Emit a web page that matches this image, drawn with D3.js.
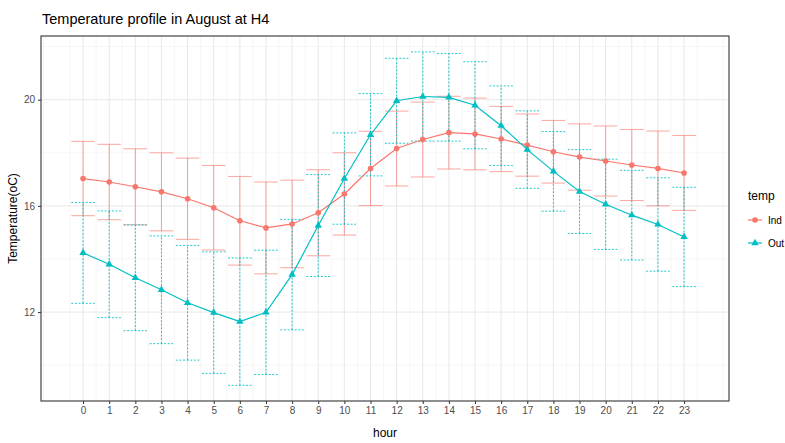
<!DOCTYPE html>
<html>
<head>
<meta charset="utf-8">
<script src="https://cdn.jsdelivr.net/npm/d3@7"></script>
<style>
  body { margin: 0; background: #fff; }
  svg text { font-family: "Liberation Sans", Arial, sans-serif; }
</style>
</head>
<body>
<svg id="root"></svg>
<script>
// hourly temperature, mean and standard deviation
const hours = [0, 1, 2, 3, 4, 5, 6, 7, 8, 9, 10, 11, 12, 13, 14, 15, 16, 17, 18, 19, 20, 21, 22, 23];
const indMean = [17.03, 16.90, 16.72, 16.53, 16.27, 15.93, 15.44, 15.17, 15.32, 15.74, 16.45, 17.41,
  18.16, 18.50, 18.76, 18.71, 18.52, 18.29, 18.04, 17.84, 17.69, 17.54, 17.41, 17.24];
const indSd = [1.40, 1.42, 1.43, 1.47, 1.53, 1.59, 1.67, 1.73, 1.65, 1.62, 1.55, 1.40,
  1.41, 1.41, 1.37, 1.35, 1.23, 1.17, 1.18, 1.25, 1.32, 1.34, 1.41, 1.41];
const outMean = [14.23, 13.80, 13.29, 12.84, 12.35, 11.98, 11.64, 11.99, 13.41, 15.26, 17.03, 18.68,
  19.96, 20.12, 20.09, 19.79, 19.02, 18.12, 17.30, 16.54, 16.06, 15.65, 15.30, 14.83];
const outSd = [1.90, 2.01, 1.99, 2.03, 2.16, 2.29, 2.40, 2.34, 2.08, 1.92, 1.72, 1.55,
  1.60, 1.68, 1.65, 1.64, 1.50, 1.46, 1.50, 1.58, 1.70, 1.69, 1.76, 1.87];
const yTicks = [12, 16, 20];
const yMinor = [10, 14, 18, 22];
const seriesNames = ["Ind", "Out"];

const W = 785, H = 443;
const margin = { top: 36, right: 56, bottom: 42, left: 41 },
  width = W - margin.left - margin.right,
  height = H - margin.top - margin.bottom;

const root = d3.select("#root").attr("width", W).attr("height", H);
const svg = root.append("g")
  .attr("transform", "translate(" + margin.left + "," + margin.top + ")");

var xScale = d3.scaleLinear([-1.61, 24.72], [0, width]);
var yScale = d3.scaleLinear([8.65, 22.4], [height, 0]);
var color = d3.scaleOrdinal(seriesNames, ["#F8766D", "#00BFC4"]);

// grid
const xMinor = hours.map(h => h + 0.5).concat([-0.5, -1.5, 24.5]);
svg.append("g").selectAll("line").data(xMinor).join("line")
  .attr("x1", d => xScale(d)).attr("x2", d => xScale(d))
  .attr("y1", 0).attr("y2", height)
  .attr("stroke", "#f0f0f0").attr("stroke-width", 0.6);
svg.append("g").selectAll("line").data(yMinor).join("line")
  .attr("x1", 0).attr("x2", width)
  .attr("y1", d => yScale(d)).attr("y2", d => yScale(d))
  .attr("stroke", "#f0f0f0").attr("stroke-width", 0.6);
svg.append("g").selectAll("line").data(hours).join("line")
  .attr("x1", d => xScale(d)).attr("x2", d => xScale(d))
  .attr("y1", 0).attr("y2", height)
  .attr("stroke", "#e8e8e8").attr("stroke-width", 1);
svg.append("g").selectAll("line").data(yTicks).join("line")
  .attr("x1", 0).attr("x2", width)
  .attr("y1", d => yScale(d)).attr("y2", d => yScale(d))
  .attr("stroke", "#e8e8e8").attr("stroke-width", 1);

const series = [
  { name: "Ind", values: hours.map((h, i) => ({ h: h, m: indMean[i], sd: indSd[i] })) },
  { name: "Out", values: hours.map((h, i) => ({ h: h, m: outMean[i], sd: outSd[i] })) }
];

// error bars: solid for Ind, dotted for Out
const capW = 0.45;
series.forEach(s => {
  const g = svg.append("g");
  const dash = s.name == "Out" ? "2,1.6" : null;
  const c = color(s.name);
  const op = s.name == "Out" ? 0.85 : 0.65;
  g.selectAll(".v").data(s.values).join("line")
    .attr("x1", d => xScale(d.h)).attr("x2", d => xScale(d.h))
    .attr("y1", d => yScale(d.m - d.sd)).attr("y2", d => yScale(d.m + d.sd))
    .attr("stroke", c).attr("stroke-opacity", op).attr("stroke-width", 1).attr("stroke-dasharray", dash);
  g.selectAll(".t").data(s.values).join("line")
    .attr("x1", d => xScale(d.h - capW)).attr("x2", d => xScale(d.h + capW))
    .attr("y1", d => yScale(d.m + d.sd)).attr("y2", d => yScale(d.m + d.sd))
    .attr("stroke", c).attr("stroke-opacity", op).attr("stroke-width", 1).attr("stroke-dasharray", dash);
  g.selectAll(".b").data(s.values).join("line")
    .attr("x1", d => xScale(d.h - capW)).attr("x2", d => xScale(d.h + capW))
    .attr("y1", d => yScale(d.m - d.sd)).attr("y2", d => yScale(d.m - d.sd))
    .attr("stroke", c).attr("stroke-opacity", op).attr("stroke-width", 1).attr("stroke-dasharray", dash);
});

var line = d3.line().x(d => xScale(d.h)).y(d => yScale(d.m));
series.forEach(s => {
  svg.append("path")
    .datum(s.values)
    .attr("fill", "none")
    .attr("stroke", color(s.name))
    .attr("stroke-width", 1.2)
    .attr("d", line);
});

// points
svg.append("g").selectAll("circle").data(series[0].values).join("circle")
  .attr("cx", d => xScale(d.h)).attr("cy", d => yScale(d.m)).attr("r", 2.8)
  .attr("fill", color("Ind"));
const tri = d3.symbol().type(d3.symbolTriangle).size(24);
svg.append("g").selectAll("path").data(series[1].values).join("path")
  .attr("transform", d => `translate(${xScale(d.h)},${yScale(d.m)})`)
  .attr("d", tri).attr("fill", color("Out"));

// panel border
svg.append("rect").attr("width", width).attr("height", height)
  .attr("fill", "none").attr("stroke", "#333").attr("stroke-width", 1.1);

// axes
var xAxis = d3.axisBottom(xScale).tickValues(hours).tickSize(3).tickPadding(3).tickFormat(d3.format("d"));
var yAxis = d3.axisLeft(yScale).tickValues(yTicks).tickSize(3).tickPadding(3);
const gx = svg.append("g").attr("transform", `translate(0,${height})`).call(xAxis);
const gy = svg.append("g").call(yAxis);
[gx, gy].forEach(g => {
  g.select(".domain").remove();
  g.selectAll(".tick line").attr("stroke", "#333");
  g.selectAll(".tick text").attr("fill", "#4d4d4d").style("font-size", "10px");
});

// axis labels
svg.append("text")
  .attr("text-anchor", "middle")
  .attr("x", width / 2)
  .attr("y", height + 36)
  .style("font-size", "12px")
  .text("hour");
svg.append("text")
  .attr("text-anchor", "middle")
  .attr("transform", "rotate(-90)")
  .attr("x", -height / 2)
  .attr("y", -24)
  .style("font-size", "12px")
  .text("Temperature(oC)");

// title
root.append("text")
  .attr("x", margin.left + 1)
  .attr("y", 24)
  .style("font-size", "14.5px")
  .text("Temperature profile in August at H4");

// legend
const leg = root.append("g").attr("transform", "translate(746,200)");
leg.append("text").attr("x", 2).attr("y", 0).style("font-size", "12px").text("temp");
seriesNames.forEach((n, i) => {
  const gy0 = 20 + i * 23;
  leg.append("line").attr("x1", 2).attr("x2", 16).attr("y1", gy0).attr("y2", gy0)
    .attr("stroke", color(n)).attr("stroke-width", 1.2);
  if (n == "Ind") {
    leg.append("circle").attr("cx", 9).attr("cy", gy0).attr("r", 2.8).attr("fill", color(n));
  } else {
    leg.append("path").attr("transform", `translate(9,${gy0})`).attr("d", tri).attr("fill", color(n));
  }
  leg.append("text").attr("x", 22).attr("y", gy0 + 3.5).style("font-size", "10px").text(n);
});
</script>
</body>
</html>
